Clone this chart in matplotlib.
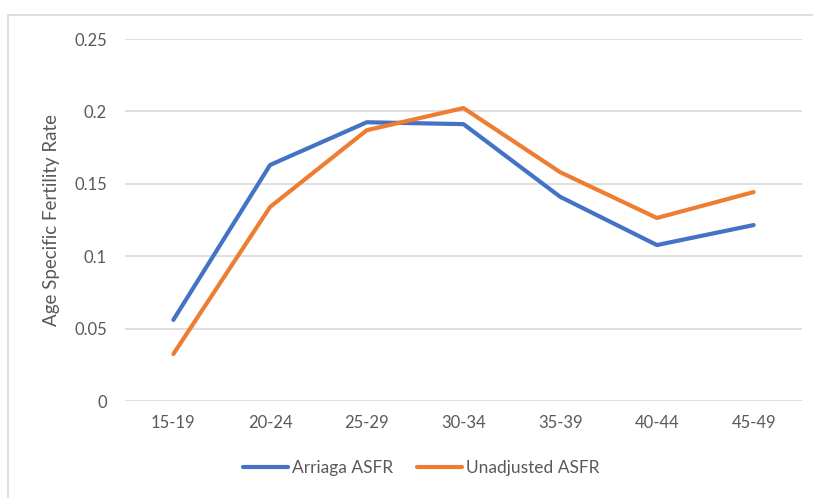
import matplotlib
matplotlib.use("Agg")
import matplotlib.pyplot as plt
from matplotlib.patches import Rectangle

# values
age_groups = ["15-19", "20-24", "25-29", "30-34", "35-39", "40-44", "45-49"]
arriaga_asfr = [0.0560, 0.1630, 0.1925, 0.1912, 0.1410, 0.1077, 0.1215]
unadjusted_asfr = [0.0324, 0.1340, 0.1870, 0.2023, 0.1580, 0.1264, 0.1443]
y_ticks = [0, 0.05, 0.1, 0.15, 0.2, 0.25]
y_tick_labels = ["0", "0.05", "0.1", "0.15", "0.2", "0.25"]

W, H = 813, 498
text_color = "#595959"
grid_color = "#D9D9D9"

plt.rcParams["font.family"] = ["Lato", "DejaVu Sans"]

fig = plt.figure(figsize=(W / 100, H / 100), dpi=100)
ax = fig.add_axes([125 / W, (H - 401) / H, (802 - 125) / W, 362 / H])

x = list(range(len(age_groups)))
ax.plot(x, arriaga_asfr, color="#4472C4", linewidth=3.0, label="Arriaga ASFR",
        solid_capstyle="round", solid_joinstyle="round", zorder=3)
ax.plot(x, unadjusted_asfr, color="#ED7D31", linewidth=3.0, label="Unadjusted ASFR",
        solid_capstyle="round", solid_joinstyle="round", zorder=3)

ax.set_xlim(-0.5, len(age_groups) - 0.5)
ax.set_ylim(0, 0.25)
ax.set_xticks(x)
ax.set_xticklabels(age_groups)
ax.set_yticks(y_ticks)
ax.set_yticklabels(y_tick_labels)
ax.tick_params(axis="y", length=0, pad=13, labelsize=12, labelcolor=text_color)
ax.tick_params(axis="x", length=0, pad=10, labelsize=12, labelcolor=text_color)
ax.grid(axis="y", color=grid_color, linewidth=1.2)
ax.set_axisbelow(True)
for s in ax.spines.values():
    s.set_visible(False)

ax.set_ylabel("Age Specific Fertility Rate", fontsize=13.5, color=text_color)
ax.yaxis.set_label_coords((60 - 125) / (802 - 125), 0.5)

fig.legend(loc="center", bbox_to_anchor=(421 / W, (H - 468) / H), ncol=2,
           frameon=False, fontsize=12.5, labelcolor=text_color,
           handlelength=2.6, handletextpad=0.2, columnspacing=1.4)

# chart area border (runs off the right and bottom edges)
fig.add_artist(Rectangle((8 / W, -0.1), 2.0, (H - 15) / H + 0.1,
                         transform=fig.transFigure, fill=False,
                         edgecolor=grid_color, linewidth=1.2))

fig.savefig("out.png", dpi=100)
